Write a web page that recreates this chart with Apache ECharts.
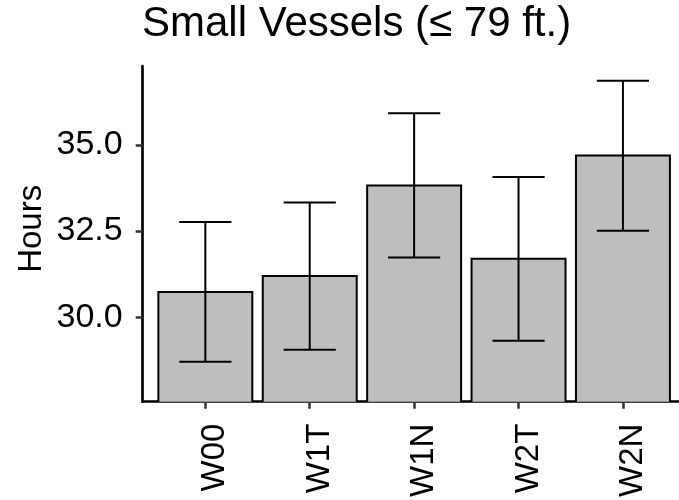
<!DOCTYPE html>
<html>
<head>
<meta charset="utf-8">
<script src="https://cdn.jsdelivr.net/npm/echarts@6/dist/echarts.min.js"></script>
<style>html,body{margin:0;padding:0;background:#fff}#c{width:679px;height:500px}</style>
</head>
<body>
<div id="c"></div>
<script>
var categories = ['W00', 'W1T', 'W1N', 'W2T', 'W2N'];
var means = [30.73, 31.20, 33.82, 31.70, 34.69];
var lowers = [28.71, 29.06, 31.73, 29.32, 32.51];
var uppers = [32.76, 33.33, 35.92, 34.07, 36.86];
var yTicks = [30, 32.5, 35];

var xPos = categories.map(function (c, i) { return i + 1; });
var barData = xPos.map(function (x, i) { return [x, means[i]]; });
var errData = xPos.map(function (x, i) { return [x, lowers[i], uppers[i]]; });

var chart = echarts.init(document.getElementById('c'), null, {renderer: 'canvas'});
var FONT = 'Liberation Sans';
chart.setOption({
  animation: false,
  title: {
    text: 'Small Vessels (\u2264 79 ft.)',
    left: 142, top: 3, padding: 0,
    textStyle: {fontFamily: FONT, fontSize: 42, fontWeight: 'normal', color: '#000'}
  },
  grid: {left: 142.7, right: 0, top: 66, bottom: 98.3, containLabel: false},
  xAxis: {
    type: 'value', min: 0.4, max: 5.537,
    splitLine: {show: false},
    axisLine: {show: true, lineStyle: {color: '#000', width: 2.7}},
    axisTick: {show: true, customValues: xPos, length: 7, lineStyle: {color: '#333', width: 2.5}},
    axisLabel: {
      customValues: xPos, rotate: 90, margin: 22,
      verticalAlign: 'top', lineHeight: 20,
      fontFamily: FONT, fontSize: 33, color: '#000',
      formatter: function (v) { return categories[Math.round(v) - 1]; }
    }
  },
  yAxis: {
    type: 'value', min: 27.55, max: 37.29,
    name: 'Hours', nameLocation: 'middle', nameGap: 94, nameRotate: 90,
    nameMoveOverlap: false,
    nameTextStyle: {fontFamily: FONT, fontSize: 33, color: '#000', padding: [0, 0, 0, 10]},
    splitLine: {show: false},
    axisLine: {show: true, lineStyle: {color: '#000', width: 2.7}},
    axisTick: {show: true, customValues: yTicks, length: 7, lineStyle: {color: '#333', width: 2.5}},
    axisLabel: {
      customValues: yTicks, margin: 20,
      fontFamily: FONT, fontSize: 34, color: '#000',
      formatter: function (v) { return v.toFixed(1); }
    }
  },
  series: [
    {
      type: 'custom', clip: true, z: 2,
      data: barData,
      renderItem: function (params, api) {
        var x = api.value(0), y = api.value(1);
        var top = api.coord([x, y]);
        var w = api.size([0.9, 0])[0];
        var bottom = params.coordSys.y + params.coordSys.height;
        return {
          type: 'rect',
          shape: {x: top[0] - w / 2, y: top[1], width: w, height: bottom - top[1] + 5},
          style: {fill: '#BEBEBE', stroke: '#000', lineWidth: 2}
        };
      }
    },
    {
      type: 'custom', clip: true, z: 3,
      data: errData,
      renderItem: function (params, api) {
        var x = api.value(0);
        var lo = api.coord([x, api.value(1)]);
        var hi = api.coord([x, api.value(2)]);
        var hw = api.size([0.5, 0])[0] / 2;
        var st = {stroke: '#000', lineWidth: 2};
        return {
          type: 'group',
          children: [
            {type: 'line', shape: {x1: lo[0], y1: lo[1], x2: hi[0], y2: hi[1]}, style: st},
            {type: 'line', shape: {x1: lo[0] - hw, y1: lo[1], x2: lo[0] + hw, y2: lo[1]}, style: st},
            {type: 'line', shape: {x1: hi[0] - hw, y1: hi[1], x2: hi[0] + hw, y2: hi[1]}, style: st}
          ]
        };
      }
    }
  ]
});
</script>
</body>
</html>
